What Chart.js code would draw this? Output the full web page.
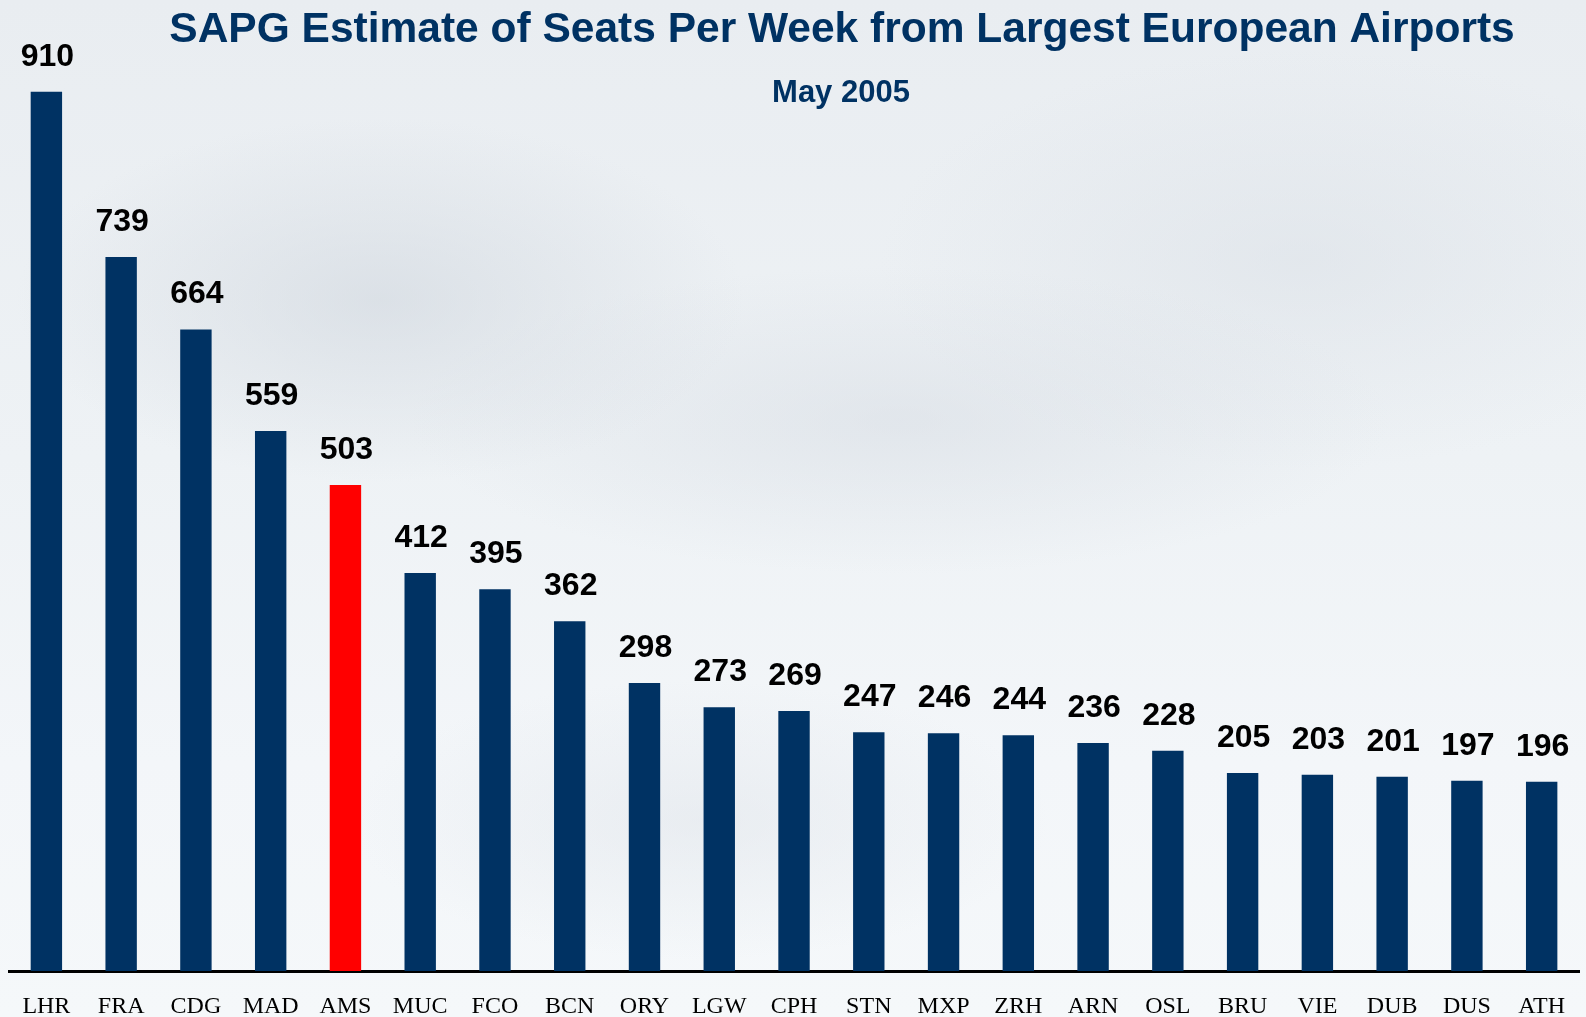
<!DOCTYPE html>
<html>
<head>
<meta charset="utf-8">
<title>SAPG Estimate of Seats Per Week</title>
<script src="https://cdn.jsdelivr.net/npm/chart.js"></script>
<style>
	html, body { margin: 0; padding: 0; overflow: hidden; }
	body {
		width: 1586px; height: 1017px;
		background:
			radial-gradient(ellipse 520px 260px at 380px 300px, rgba(205,212,220,0.55), rgba(205,212,220,0) 70%),
			radial-gradient(ellipse 700px 220px at 900px 420px, rgba(210,216,224,0.45), rgba(210,216,224,0) 70%),
			radial-gradient(ellipse 600px 300px at 1300px 260px, rgba(215,221,228,0.45), rgba(215,221,228,0) 70%),
			radial-gradient(ellipse 500px 200px at 700px 820px, rgba(220,225,231,0.45), rgba(220,225,231,0) 70%),
			linear-gradient(180deg, #e9edf1 0%, #eef2f5 45%, #f3f6f9 75%, #f5f8fa 100%);
	}
	canvas { display: block; position: absolute; left: 0; top: 0; }
</style>
</head>
<body>
<canvas id="seatChart" width="1586" height="1017"></canvas>
<script>
	// 공항 코드
	const airports = ['LHR','FRA','CDG','MAD','AMS','MUC','FCO','BCN','ORY','LGW','CPH',
	                  'STN','MXP','ZRH','ARN','OSL','BRU','VIE','DUB','DUS','ATH'];

	// 주당 좌석수 (천석)
	const seats = [910, 739, 664, 559, 503, 412, 395, 362, 298, 273, 269,
	               247, 246, 244, 236, 228, 205, 203, 201, 197, 196];

	// 강조 공항
	const highlight = 'AMS';

	const titleText = 'SAPG Estimate of Seats Per Week from Largest European Airports';
	const subTitleText = 'May 2005';

	const NAVY = '#003263';
	const RED = '#ff0000';

	// 제목 + 막대 값 표시 플러그인
	const textPlugin = {
		id: 'textPlugin',
		afterDatasetsDraw: function(chart) {
			let ctx = chart.ctx;
			let meta = chart.getDatasetMeta(0);
			ctx.save();
			ctx.fillStyle = '#000';
			ctx.font = 'bold 32px "Liberation Sans", Arial, sans-serif';
			ctx.textAlign = 'center';
			ctx.textBaseline = 'alphabetic';
			meta.data.forEach(function(bar, i) {
				ctx.fillText(String(seats[i]), bar.x + 1, bar.y - 26);
			});

			ctx.fillStyle = NAVY;
			ctx.font = 'bold 42.5px "Liberation Sans", Arial, sans-serif';
			ctx.fillText(titleText, 842, 42);
			ctx.font = 'bold 31px "Liberation Sans", Arial, sans-serif';
			ctx.fillText(subTitleText, 841, 102);
			ctx.restore();
		}
	};

	new Chart(document.getElementById('seatChart'), {
		type: 'bar',
		data: {
			labels: airports,
			datasets: [{
				data: seats,
				backgroundColor: airports.map(a => a === highlight ? RED : NAVY),
				barPercentage: 0.42,
				categoryPercentage: 1.0
			}]
		},
		options: {
			responsive: false,
			animation: false,
			layout: { padding: { left: 9, right: 0, top: 0, bottom: 0 } },
			plugins: {
				legend: { display: false },
				tooltip: { enabled: false }
			},
			scales: {
				x: {
					grid: { display: false, drawTicks: false },
					border: { display: true, color: '#000', width: 3 },
					ticks: {
						color: '#000',
						font: { family: '"Liberation Serif", "Times New Roman", serif', size: 24 },
						padding: 21,
						autoSkip: false,
						maxRotation: 0
					},
					afterFit: function(scale) { scale.height = 46; }
				},
				y: {
					display: false,
					min: 0,
					max: 1005
				}
			}
		},
		plugins: [textPlugin]
	});
</script>
</body>
</html>
